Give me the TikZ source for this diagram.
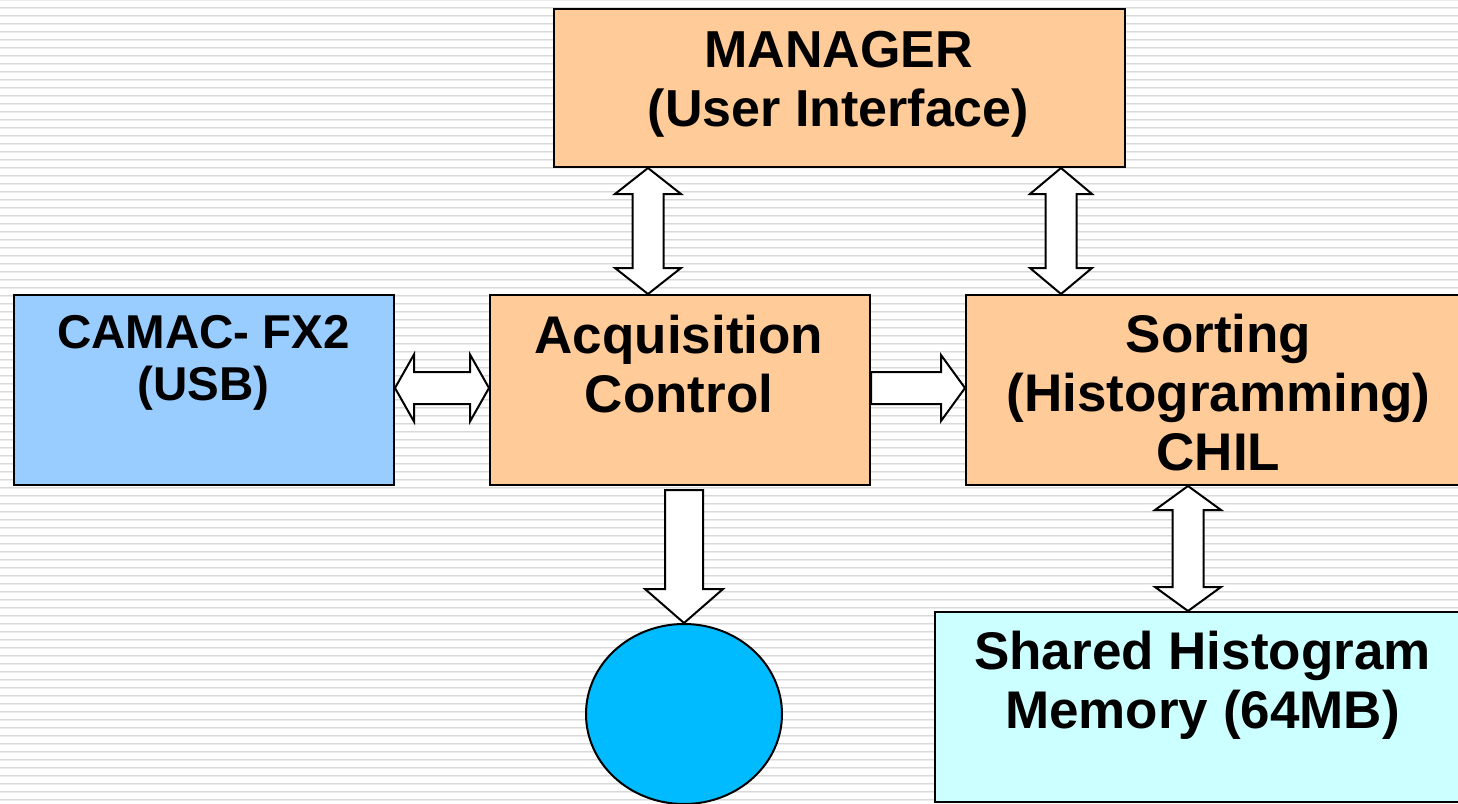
\documentclass[tikz,border=0pt]{standalone}
\usepackage{fontspec}
\setmainfont{Liberation Sans}
\usetikzlibrary{calc,shapes.geometric}
\definecolor{peach}{HTML}{FFCC99}
\definecolor{ltblue}{HTML}{99CCFF}
\definecolor{ltcyan}{HTML}{CCFFFF}
\definecolor{diskblue}{HTML}{00BBFF}
\definecolor{stripeA}{HTML}{D9D9D9}
\definecolor{stripeB}{HTML}{ECECEC}
\newcommand\vdarr[6]{\draw[fat] (#1,0 |- #2) -- ++(#4,#6) -- ++({-(#4)+(#5)},0) -- ($(#1,0 |- #3)+(#5,-#6)$) -- ++({(#4)-(#5)},0) -- (#1,0 |- #3) -- ++(-#4,-#6) -- ++({(#4)-(#5)},0) -- ($(#1,0 |- #2)+(-#5,#6)$) -- ++({-(#4)+(#5)},0) -- cycle;}
\newcommand\hdarr[6]{\draw[fat] (#2 |- 0,#1) -- ++(#6,-#4) -- ++(0,{(#4)-(#5)}) -- ($(#3 |- 0,#1)+(-#6,-#5)$) -- ++(0,{-(#4)+(#5)}) -- (#3 |- 0,#1) -- ++(-#6,#4) -- ++(0,{-(#4)+(#5)}) -- ($(#2 |- 0,#1)+(#6,#5)$) -- ++(0,{(#4)-(#5)}) -- cycle;}
\begin{document}
\begin{tikzpicture}[x=0.5pt,y=-0.5pt,
  box/.style={draw=black, line width=1pt, anchor=north west, inner sep=0pt, minimum height=95pt},
  fat/.style={draw=black, fill=white, line width=1pt, line join=miter},
  lbl/.style={anchor=base, align=center, inner sep=0pt, font=\bfseries\fontsize{26.5}{29.5}\selectfont}]
\clip (0,0) rectangle (1458,804);
\fill[white] (0,0) rectangle (1458,804);
\foreach \k in {0,...,101} {
  \fill[stripeA] (0,{8*\k-1}) rectangle (1458,{8*\k});
  \fill[stripeB] (0,{8*\k}) rectangle (1458,{8*\k+1});
}
% boxes
\node[box, fill=peach, minimum width=285.5pt, minimum height=79pt] (mgr) at (553,8) {};
\node[box, fill=ltblue, minimum width=190pt] (camac) at (13,294) {};
\node[box, fill=peach, minimum width=190pt] (acq) at (489,294) {};
\node[box, fill=peach, minimum width=253.5pt] (sort) at (965,294) {};
\node[box, fill=ltcyan, minimum width=268.5pt] (shm) at (934,611) {};
\node[ellipse, draw=black, line width=1pt, fill=diskblue, minimum width=98pt, minimum height=90pt, inner sep=0pt] (disk) at (684,714) {};
% texts (anchored at the baseline of the last line)
\node[lbl, font=\bfseries\fontsize{26}{29.5}\selectfont] (mgrT) at (838.5,126) {MANAGER\\(User Interface)};
\node[lbl, font=\bfseries\fontsize{23.75}{26}\selectfont] (camacT) at (203.5,400) {CAMAC- FX2\\(USB)};
\node[lbl] (acqT) at (679,412) {Acquisition\\Control};
\node[lbl] (sortT) at (1218.5,470) {Sorting\\(Histogramming)\\CHIL};
\node[lbl] (shmT) at (1202.5,728) {Shared Histogram\\Memory (64MB)};
% connectors
\vdarr{648}{mgr.south}{acq.north}{33}{15.5}{26}
\vdarr{1061}{mgr.south}{sort.north}{31}{15.5}{26}
\vdarr{1188}{sort.south}{shm.north}{33}{15.5}{24}
\hdarr{388}{camac.east}{acq.west}{33.5}{16}{19}
\draw[fat] (acq.east |- 0,372) -- ($(sort.west |- 0,372)+(-24,0)$) -- ++(0,-17) -- (sort.west |- 0,388) -- ++(-24,33) -- ++(0,-17) -- (acq.east |- 0,404) -- cycle;
\draw[fat] ($(684,0 |- acq.south)+(-19,4)$) -- ($(684,0 |- acq.south)+(19,4)$) -- ($(disk.north)+(19,-34)$) -- ++(20,0) -- (disk.north) -- ++(-39,-34) -- ++(20,0) -- cycle;
\end{tikzpicture}
\end{document}
